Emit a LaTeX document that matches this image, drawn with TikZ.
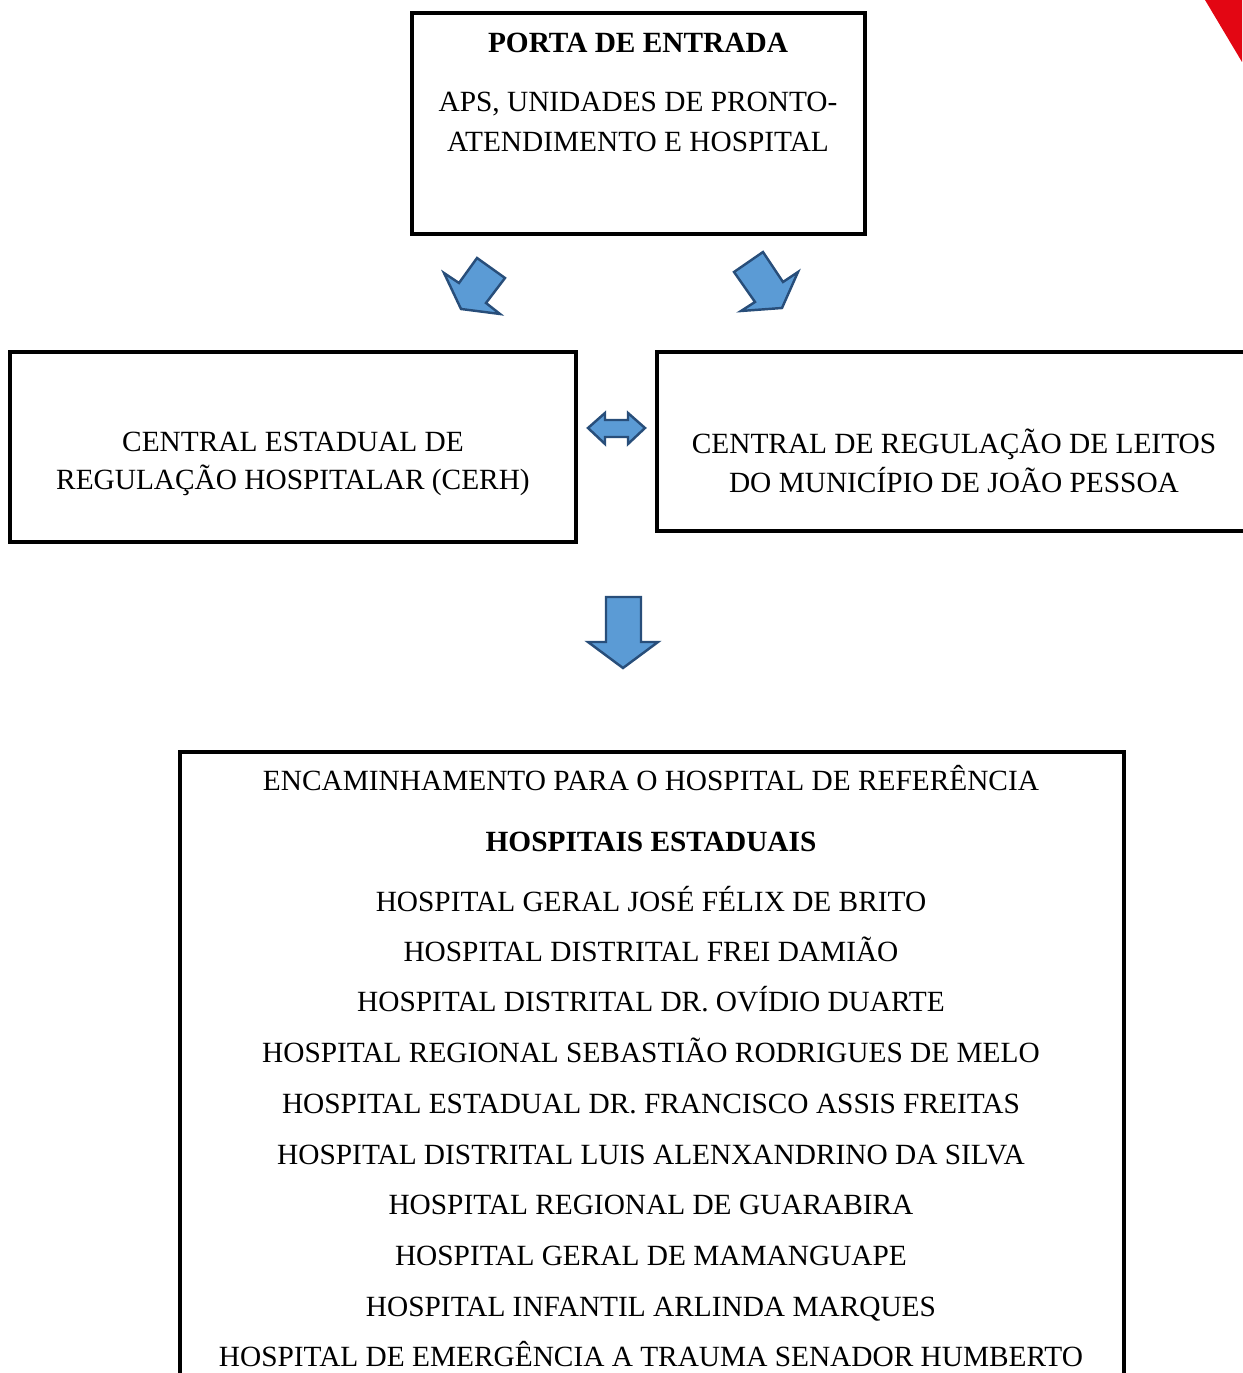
\documentclass[tikz,border=0pt]{standalone}
\usepackage{fontspec}
\setmainfont{Liberation Serif}
\usepackage{tikz}
\definecolor{setaazul}{RGB}{91,155,213}
\definecolor{bordaazul}{RGB}{40,78,122}
\definecolor{vermelho}{RGB}{227,6,19}
\tikzset{
    caixa/.style={line width=1.35pt},
    texto/.style={anchor=base, inner sep=0pt, font=\fontsize{12}{16}\selectfont},
    seta/.style={fill=setaazul, draw=bordaazul, line width=1pt, line join=miter}
}

\begin{document}
\begin{tikzpicture}[x=0.409pt, y=-0.409pt]
    \useasboundingbox (0,0) rectangle (1242,1373);
    \fill[vermelho] (1205,0) -- (1242,0) -- (1242,62) -- cycle;

    \draw[caixa] (412,13) rectangle (865,234);
    \draw[caixa] (10,352) rectangle (576,542);
    \draw[caixa] (657,352) rectangle (1262,531);
    \draw[caixa] (180,752) rectangle (1124,1400);

    \draw (638,53) node[texto] (porta) {\textbf{PORTA DE ENTRADA}};
    \draw (638,112) node[texto] (aps) {APS, UNIDADES DE PRONTO-};
    \draw (638,152) node[texto] (atend) {ATENDIMENTO E HOSPITAL};

    \draw (293,451) node[texto] (cerh1) {CENTRAL ESTADUAL DE};
    \draw (293,490) node[texto] (cerh2) {REGULAÇÃO HOSPITALAR (CERH)};

    \draw (954,454) node[texto] (leitos1) {CENTRAL DE REGULAÇÃO DE LEITOS};
    \draw (954,492) node[texto] (leitos2) {DO MUNICÍPIO DE JOÃO PESSOA};

    \draw[seta] (444,273) -- (459,283) -- (477,258) -- (505,278) -- (486,303) -- (500,314) -- (461,309) -- cycle;
    \draw[seta] (763,252) -- (734,272) -- (755,302) -- (741,311) -- (782,308) -- (798,272) -- (783,282) -- cycle;
    \draw[seta] (588,428) -- (605,413) -- (605,420) -- (628,420) -- (628,413) -- (645,428) -- (628,444) -- (628,437) -- (605,437) -- (605,444) -- cycle;
    \draw[seta] (606,597) -- (641,597) -- (641,642) -- (658,642) -- (623,668) -- (588,642) -- (606,642) -- cycle;

    \draw (651,790) node[texto] (encam) {ENCAMINHAMENTO PARA O HOSPITAL DE REFERÊNCIA};
    \draw (651,851) node[texto] (estaduais) {\textbf{HOSPITAIS ESTADUAIS}};
    \draw (651,911) node[texto] (h1) {HOSPITAL GERAL JOSÉ FÉLIX DE BRITO};
    \draw (651,961) node[texto] (h2) {HOSPITAL DISTRITAL FREI DAMIÃO};
    \draw (651,1011) node[texto] (h3) {HOSPITAL DISTRITAL DR. OVÍDIO DUARTE};
    \draw (651,1062) node[texto] (h4) {HOSPITAL REGIONAL SEBASTIÃO RODRIGUES DE MELO};
    \draw (651,1113) node[texto] (h5) {HOSPITAL ESTADUAL DR. FRANCISCO ASSIS FREITAS};
    \draw (651,1164) node[texto] (h6) {HOSPITAL DISTRITAL LUIS ALENXANDRINO DA SILVA};
    \draw (651,1214) node[texto] (h7) {HOSPITAL REGIONAL DE GUARABIRA};
    \draw (651,1265) node[texto] (h8) {HOSPITAL GERAL DE MAMANGUAPE};
    \draw (651,1316) node[texto] (h9) {HOSPITAL INFANTIL ARLINDA MARQUES};
    \draw (651,1366) node[texto] (h10) {HOSPITAL DE EMERGÊNCIA A TRAUMA SENADOR HUMBERTO};
\end{tikzpicture}
\end{document}
